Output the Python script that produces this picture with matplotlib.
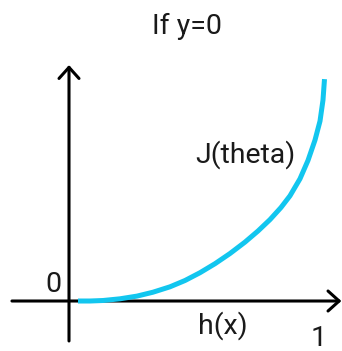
import numpy as np
import matplotlib
matplotlib.use('Agg')
import matplotlib.pyplot as plt

plt.rcParams['font.family'] = ['Roboto', 'DejaVu Sans']

# cost curve J(theta), for y = 0
h_vals = [0.0350, 0.0817, 0.1323, 0.1984, 0.2646, 0.3268, 0.3930, 0.4514,
          0.5097, 0.5681, 0.6265, 0.6848, 0.7354, 0.7821, 0.8249, 0.8599,
          0.8988, 0.9300, 0.9572, 0.9767, 0.9883, 0.9942]
j_vals = [0.0, 0.0, 0.0091, 0.0400, 0.0891, 0.1600, 0.2582, 0.3727,
          0.5145, 0.6782, 0.8636, 1.0709, 1.2727, 1.4800, 1.7000, 1.9127,
          2.2218, 2.5564, 2.9255, 3.2709, 3.6527, 4.0345]

title_text = 'If y=0'
curve_label = 'J(theta)'
x_label = 'h(x)'
origin_label = '0'
end_label = '1'

fig = plt.figure(figsize=(3.42, 3.51), dpi=100)
ax = fig.add_axes([0, 0, 1, 1])
ax.set_xlim(-0.2685, 1.0623)
ax.set_ylim(-0.909, 5.473)
ax.axis('off')

# axes drawn as arrows
arrow = dict(arrowstyle='->,head_length=0.8,head_width=0.72', lw=2.2, color='black',
             shrinkA=0, shrinkB=0, mutation_scale=10)
ax.annotate('', xy=(1.06, 0.0), xytext=(-0.222, 0.0), arrowprops=arrow)
ax.annotate('', xy=(0.0, 4.29), xytext=(0.0, -0.727), arrowprops=arrow)

ax.plot(h_vals, j_vals, color='#12c6ef', lw=3.6, solid_capstyle='butt',
        solid_joinstyle='round', zorder=3)

fs = 20.5
txt = dict(fontsize=fs, color='#1a1a1a')
ax.text(0.459, 4.855, title_text, ha='center', va='baseline', **txt)
ax.text(0.685, 2.51, curve_label, ha='center', va='baseline', **txt)
ax.text(-0.06, 0.164, origin_label, ha='center', va='baseline', **txt)
ax.text(0.599, -0.6, x_label, ha='center', va='baseline', **txt)
ax.text(0.971, -0.82, end_label, ha='center', va='baseline', **txt)

fig.savefig('out.png', dpi=100)
